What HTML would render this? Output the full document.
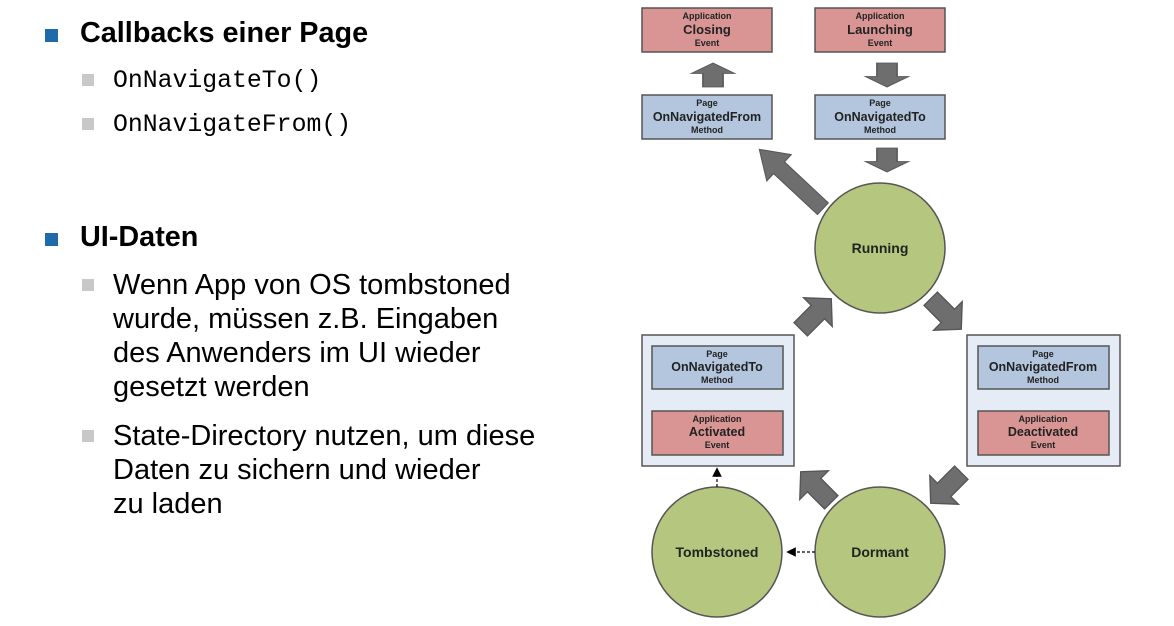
<!DOCTYPE html>
<html><head><meta charset="utf-8"><style>
body{margin:0;width:1174px;height:626px;background:#fff;overflow:hidden;position:relative;font-family:"Liberation Sans",sans-serif}
.t{position:absolute;color:#000;white-space:nowrap}
.b1{position:absolute;width:13px;height:13px;background:#1f6aa8}
.b2{position:absolute;width:12px;height:12px;background:#c8c8c8}
.h{font-weight:bold;font-size:28.8px}
.m{font-family:"Liberation Mono",monospace;font-size:24.8px}
.p{font-size:29px;line-height:34px}
</style></head><body>
<div class="b1" style="left:45px;top:29px"></div>
<div class="t h" style="left:80px;top:17px">Callbacks einer Page</div>
<div class="b2" style="left:82px;top:74px"></div>
<div class="t m" style="left:113px;top:67px">OnNavigateTo()</div>
<div class="b2" style="left:82px;top:118px"></div>
<div class="t m" style="left:113px;top:111px">OnNavigateFrom()</div>
<div class="b1" style="left:45px;top:233px"></div>
<div class="t h" style="left:80px;top:221px">UI-Daten</div>
<div class="b2" style="left:82px;top:279px"></div>
<div class="t p" style="left:113px;top:268px">Wenn App von OS tombstoned<br>wurde, müssen z.B. Eingaben<br>des Anwenders im UI wieder<br>gesetzt werden</div>
<div class="b2" style="left:82px;top:430px"></div>
<div class="t p" style="left:113px;top:419px">State-Directory nutzen, um diese<br>Daten zu sichern und wieder<br>zu laden</div>

<svg width="1174" height="626" style="position:absolute;left:0;top:0" font-family="Liberation Sans,sans-serif" font-weight="bold" text-anchor="middle">
<defs>
<polygon id="sa" points="-16,-7 2,-7 2,-15 16,0 2,15 2,7 -16,7" fill="#6e6e6e" stroke="#555" stroke-width="1"/>
<marker id="mk" markerWidth="8" markerHeight="8" refX="4" refY="4" orient="auto"><path d="M0,0 L8,4 L0,8z" fill="#000"/></marker>
</defs>
<g stroke="#555" stroke-width="1.5">
<rect x="642" y="8" width="130" height="44" fill="#d99594"/>
<rect x="815" y="8" width="130" height="44" fill="#d99594"/>
<rect x="642" y="95" width="130" height="44" fill="#b3c6de"/>
<rect x="815" y="95" width="130" height="44" fill="#b3c6de"/>
<rect x="642" y="335" width="152" height="131" fill="#e6ecf5"/>
<rect x="967" y="335" width="153" height="131" fill="#e6ecf5"/>
<rect x="652" y="346" width="131" height="43" fill="#b3c6de"/>
<rect x="652" y="411" width="131" height="44" fill="#d99594"/>
<rect x="978" y="346" width="131" height="43" fill="#b3c6de"/>
<rect x="978" y="411" width="131" height="44" fill="#d99594"/>
<circle cx="880" cy="248" r="65" fill="#b5c77e"/>
<circle cx="717" cy="552" r="65" fill="#b5c77e"/>
<circle cx="880" cy="552" r="65" fill="#b5c77e"/>
</g>
<g fill="#222">
<text x="707" y="19" font-size="9">Application</text><text x="707" y="34" font-size="13">Closing</text><text x="707" y="46" font-size="9">Event</text>
<text x="880" y="19" font-size="9">Application</text><text x="880" y="34" font-size="13">Launching</text><text x="880" y="46" font-size="9">Event</text>
<text x="707" y="106" font-size="9">Page</text><text x="707" y="121" font-size="12.5">OnNavigatedFrom</text><text x="707" y="133" font-size="9">Method</text>
<text x="880" y="106" font-size="9">Page</text><text x="880" y="121" font-size="12.5">OnNavigatedTo</text><text x="880" y="133" font-size="9">Method</text>
<text x="717" y="357" font-size="9">Page</text><text x="717" y="371" font-size="12.5">OnNavigatedTo</text><text x="717" y="383" font-size="9">Method</text>
<text x="717" y="422" font-size="9">Application</text><text x="717" y="436" font-size="12.5">Activated</text><text x="717" y="448" font-size="9">Event</text>
<text x="1043" y="357" font-size="9">Page</text><text x="1043" y="371" font-size="12.5">OnNavigatedFrom</text><text x="1043" y="383" font-size="9">Method</text>
<text x="1043" y="422" font-size="9">Application</text><text x="1043" y="436" font-size="12.5">Deactivated</text><text x="1043" y="448" font-size="9">Event</text>
<text x="880" y="253" font-size="14">Running</text>
<text x="717" y="557" font-size="14">Tombstoned</text>
<text x="880" y="557" font-size="14">Dormant</text>
</g>
<use href="#sa" transform="translate(713,75) rotate(-90) scale(0.75,1.45)"/>
<use href="#sa" transform="translate(887,75) rotate(90) scale(0.75,1.45)"/>
<use href="#sa" transform="translate(887,160) rotate(90) scale(0.75,1.45)"/>
<polygon points="-45,-8 15,-8 15,-18 42,0 15,18 15,8 -45,8" fill="#6e6e6e" stroke="#555" transform="translate(790,178) rotate(-137)"/>
<use href="#sa" transform="translate(816,314) rotate(-45) scale(1.35)"/>
<use href="#sa" transform="translate(946,314) rotate(45) scale(1.35)"/>
<use href="#sa" transform="translate(816,487) rotate(-135) scale(1.35)"/>
<use href="#sa" transform="translate(946,488) rotate(135) scale(1.35)"/>
<line x1="717" y1="487" x2="717" y2="472" stroke="#000" stroke-width="1.2" stroke-dasharray="3,2" marker-end="url(#mk)"/>
<line x1="815" y1="552" x2="791" y2="552" stroke="#000" stroke-width="1.2" stroke-dasharray="3,2" marker-end="url(#mk)"/>
</svg>
</body></html>
